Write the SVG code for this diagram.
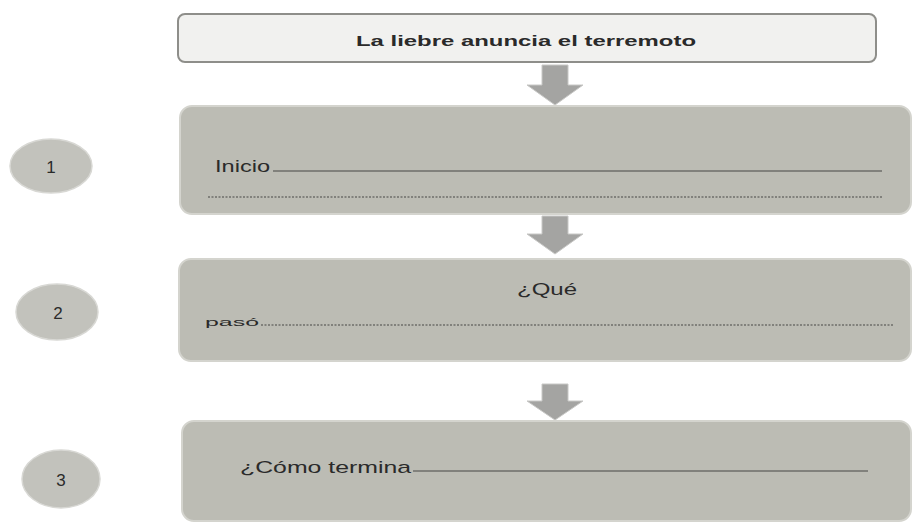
<svg xmlns="http://www.w3.org/2000/svg" width="913" height="525" viewBox="0 0 913 525">
<style>
.panel{fill:#bcbcb4;stroke:#d4d4ce;stroke-width:2}
.title{fill:#f1f1ef;stroke:#8e8e8a;stroke-width:2}
.oval{fill:#c2c2bc;stroke:#d8d8d4;stroke-width:1.5}
.arrow{fill:#a4a4a2;stroke:#c8c8c6;stroke-width:1}
.t{font-family:"Liberation Sans",Arial,sans-serif;fill:#2a2a2a}
.rule{stroke:#6e6e6a;stroke-width:1.6}
.dots{stroke:#6e6e6a;stroke-width:1.4;stroke-dasharray:2 1.5}
</style>
<rect width="913" height="525" fill="#ffffff"/>
<g id="title">
<rect class="title" x="178" y="14" width="698" height="48" rx="7"/>
<text class="t" x="356" y="46" font-size="15" font-weight="bold" textLength="340" lengthAdjust="spacingAndGlyphs">La liebre anuncia el terremoto</text>
</g>
<g id="connectors">
<path class="arrow" d="M542,65 H568 V85 H583 L555,105 L527,85 H542 Z"/>
<path class="arrow" d="M542,216 H568 V234 H583 L555,254 L527,234 H542 Z"/>
<path class="arrow" d="M542,384 H568 V401 H583 L555,420 L527,401 H542 Z"/>
</g>
<g id="panel1">
<rect class="panel" x="180" y="106" width="731" height="108" rx="12"/>
<text class="t" x="215" y="172" font-size="16" textLength="55" lengthAdjust="spacingAndGlyphs">Inicio</text>
<line class="rule" x1="273" y1="171" x2="882" y2="171"/>
<line class="dots" x1="208" y1="197" x2="882" y2="197"/>
</g>
<g id="panel2">
<rect class="panel" x="179" y="259" width="732" height="102" rx="12"/>
<text class="t" x="517" y="295" font-size="16" textLength="60" lengthAdjust="spacingAndGlyphs">¿Qué</text>
<text class="t" x="205" y="326" font-size="10" textLength="54" lengthAdjust="spacingAndGlyphs">pasó</text>
<line class="dots" x1="261" y1="325" x2="893" y2="325"/>
</g>
<g id="panel3">
<rect class="panel" x="182" y="421" width="729" height="100" rx="12"/>
<text class="t" x="240" y="473" font-size="17" textLength="171" lengthAdjust="spacingAndGlyphs">¿Cómo termina</text>
<line class="rule" x1="413" y1="471" x2="868" y2="471"/>
</g>
<g id="step1">
<ellipse class="oval" cx="51" cy="166" rx="41" ry="27"/>
<text class="t" x="51" y="173" font-size="17" text-anchor="middle">1</text>
</g>
<g id="step2">
<ellipse class="oval" cx="57" cy="312" rx="41" ry="28"/>
<text class="t" x="58" y="319" font-size="17" text-anchor="middle">2</text>
</g>
<g id="step3">
<ellipse class="oval" cx="61" cy="479" rx="39" ry="29"/>
<text class="t" x="61" y="486" font-size="17" text-anchor="middle">3</text>
</g>
</svg>
